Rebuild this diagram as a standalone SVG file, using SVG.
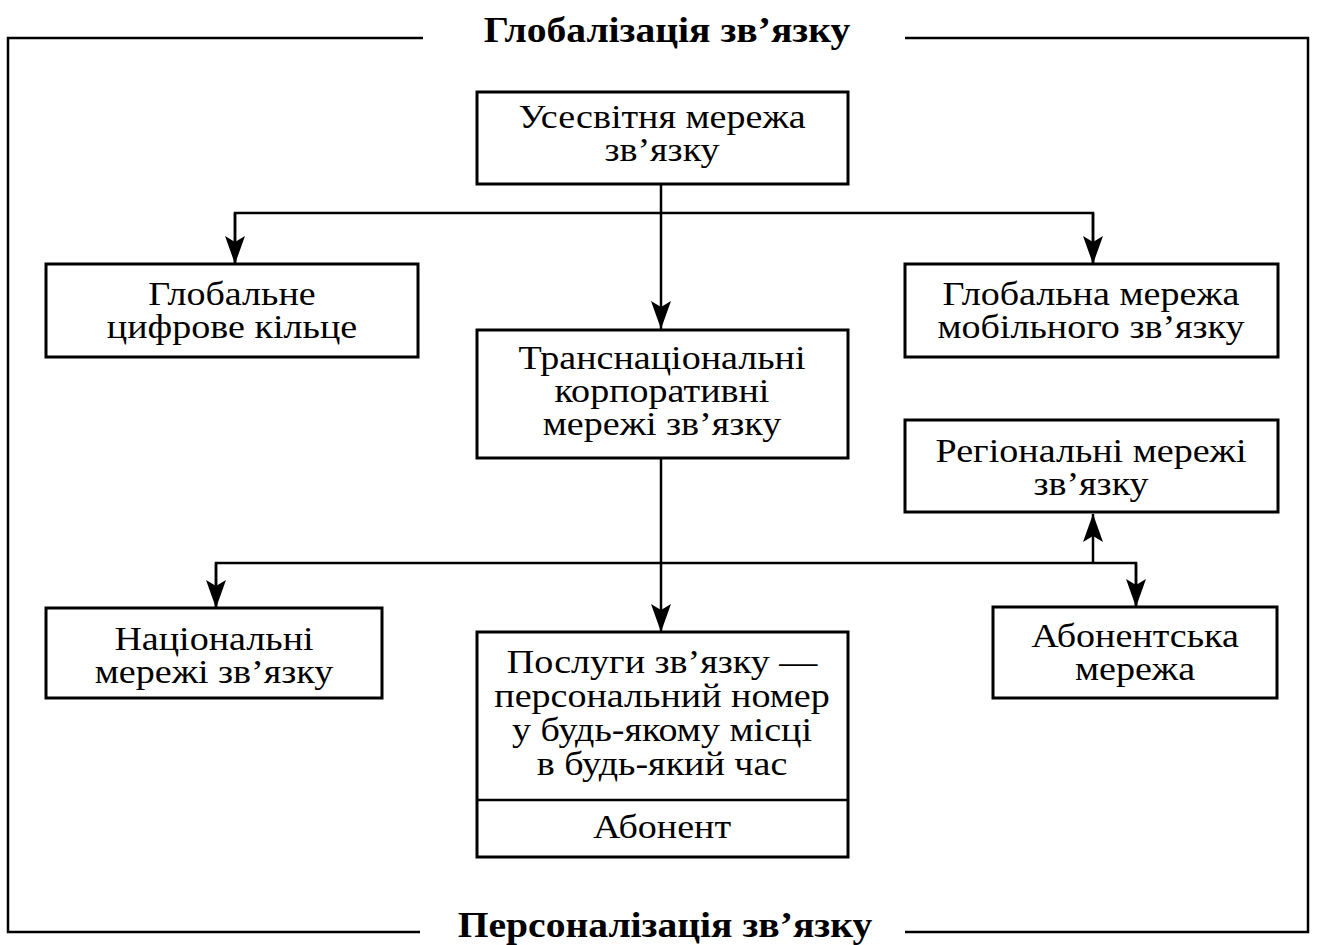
<svg xmlns="http://www.w3.org/2000/svg" width="1318" height="945" viewBox="0 0 1318 945">
<defs>
<marker id="arr" viewBox="0 -10 28 20" refX="28" refY="0" markerWidth="28" markerHeight="20" markerUnits="userSpaceOnUse" orient="auto">
<path d="M0,-10 L28,0 L0,10 L6,0 Z" fill="#000"/>
</marker>
<style>
.box{fill:#fff;stroke:#000;stroke-width:3}
.t{font-family:"Liberation Serif","Times New Roman",serif;font-size:34px;fill:#000;text-anchor:middle}
.h{font-family:"Liberation Serif","Times New Roman",serif;font-size:36px;font-weight:bold;fill:#000;text-anchor:middle}
.c{fill:none;stroke:#000;stroke-width:2.5}
.f{fill:none;stroke:#000;stroke-width:2.5}
</style>
</defs>
<rect width="1318" height="945" fill="#fff"/>
<g id="frame">
<path class="f" d="M423,38 H8 V932 H420 M905,932 H1308 V38 H905"/>
<text class="h" transform="matrix(1.1 0 0 1 667 42)">Глобалізація зв’язку</text>
<text class="h" transform="matrix(1.1 0 0 1 665 937)">Персоналізація зв’язку</text>
</g>
<g id="connectors">
<path class="c" d="M661,184 V329" marker-end="url(#arr)"/>
<path class="c" d="M235,264 V213 H1093 V264"/>
<path class="c" d="M235,213 V264" marker-end="url(#arr)"/>
<path class="c" d="M1093,213 V264" marker-end="url(#arr)"/>
<path class="c" d="M661,458 V632" marker-end="url(#arr)"/>
<path class="c" d="M216,608 V563 H1136 V607"/>
<path class="c" d="M216,563 V608" marker-end="url(#arr)"/>
<path class="c" d="M1136,563 V607" marker-end="url(#arr)"/>
<path class="c" d="M1093,563 V514" marker-end="url(#arr)"/>
</g>
<g id="n1">
<rect class="box" x="477" y="92" width="371" height="92"/>
<text class="t" transform="matrix(1.12 0 0 1 662 128)">Усесвітня мережа</text>
<text class="t" transform="matrix(1.12 0 0 1 662 161)">зв’язку</text>
</g>
<g id="n2">
<rect class="box" x="46" y="264" width="372" height="93"/>
<text class="t" transform="matrix(1.12 0 0 1 232 305)">Глобальне</text>
<text class="t" transform="matrix(1.12 0 0 1 232 338)">цифрове кільце</text>
</g>
<g id="n3">
<rect class="box" x="905" y="264" width="373" height="93"/>
<text class="t" transform="matrix(1.12 0 0 1 1091 305)">Глобальна мережа</text>
<text class="t" transform="matrix(1.12 0 0 1 1091 338)">мобільного зв’язку</text>
</g>
<g id="n4">
<rect class="box" x="477" y="330" width="371" height="128"/>
<text class="t" transform="matrix(1.12 0 0 1 662 369)">Транснаціональні</text>
<text class="t" transform="matrix(1.12 0 0 1 662 402)">корпоративні</text>
<text class="t" transform="matrix(1.12 0 0 1 662 435)">мережі зв’язку</text>
</g>
<g id="n5">
<rect class="box" x="905" y="420" width="373" height="92"/>
<text class="t" transform="matrix(1.12 0 0 1 1091 462)">Регіональні мережі</text>
<text class="t" transform="matrix(1.12 0 0 1 1091 495)">зв’язку</text>
</g>
<g id="n6">
<rect class="box" x="46" y="608" width="336" height="90"/>
<text class="t" transform="matrix(1.12 0 0 1 214 650)">Національні</text>
<text class="t" transform="matrix(1.12 0 0 1 214 683)">мережі зв’язку</text>
</g>
<g id="n7">
<rect class="box" x="477" y="632" width="371" height="225"/>
<line x1="477" y1="800" x2="848" y2="800" stroke="#000" stroke-width="2.5"/>
<text class="t" transform="matrix(1.12 0 0 1 662 673)">Послуги зв’язку —</text>
<text class="t" transform="matrix(1.12 0 0 1 662 707)">персональний номер</text>
<text class="t" transform="matrix(1.12 0 0 1 662 741)">у будь-якому місці</text>
<text class="t" transform="matrix(1.12 0 0 1 662 775)">в будь-який час</text>
<text class="t" transform="matrix(1.12 0 0 1 662 838)">Абонент</text>
</g>
<g id="n8">
<rect class="box" x="993" y="607" width="284" height="91"/>
<text class="t" transform="matrix(1.12 0 0 1 1135 647)">Абонентська</text>
<text class="t" transform="matrix(1.12 0 0 1 1135 680)">мережа</text>
</g>
</svg>
